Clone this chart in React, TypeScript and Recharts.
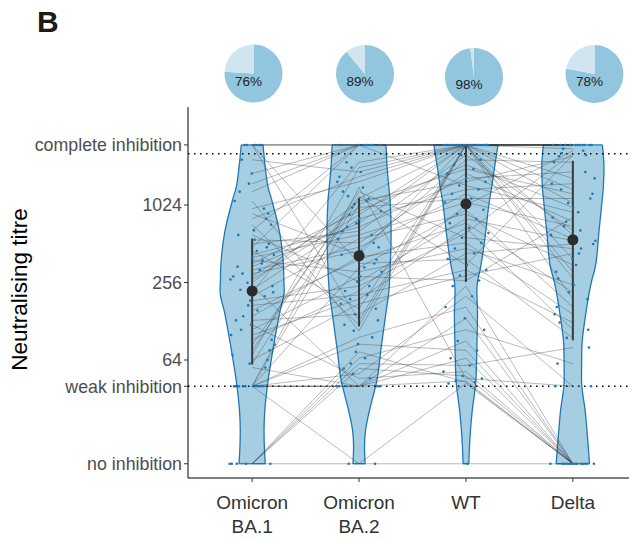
import React from 'react';
import {
  ComposedChart,
  Area,
  Line,
  Scatter,
  XAxis,
  YAxis,
  ReferenceLine,
  PieChart,
  Pie,
  Cell,
} from 'recharts';

// ---------- data ----------
const categoryLines: string[][] = [['Omicron', 'BA.1'], ['Omicron', 'BA.2'], ['WT'], ['Delta']];
const piePercent = [76, 89, 98, 78];

const yTicks = [10, 40, 64, 256, 1024, 3000];
const yTickLabels: Record<number, string> = {
  10: 'no inhibition',
  40: 'weak inhibition',
  64: '64',
  256: '256',
  1024: '1024',
  3000: 'complete inhibition',
};
const weakThreshold = 40;
const completeThreshold = 2560;

// per-subject titres (same subject order in every array)
const titreBA1 = [
  10, 40, 10, 40, 40, 10, 120, 10, 40, 40, 56, 10, 240, 40, 40, 40,
  110, 64, 170, 84, 3000, 130, 380, 140, 76, 185, 100, 155, 600, 200, 40, 92,
  400, 285, 320, 225, 480, 255, 420, 550, 40, 360, 300, 510, 60, 270, 450, 340,
  960, 3000, 720, 1800, 70, 3000, 1300, 800, 3000, 215, 650, 1100, 3000, 2300, 880, 1500,
];
const titreBA2 = [
  10, 10, 74, 40, 1400, 55, 46, 60, 40, 85, 40, 66, 40, 96, 50, 40,
  285, 175, 205, 1200, 360, 145, 310, 405, 1300, 240, 190, 385, 260, 560, 335, 220,
  600, 980, 480, 800, 3000, 1100, 690, 520, 1040, 920, 450, 640, 1150, 860, 160, 740,
  1550, 3000, 120, 3000, 2000, 130, 3000, 1700, 3000, 2200, 3000, 108, 3000, 1850, 420, 3000,
];
const titreWT = [
  10, 42, 43, 44, 46, 48, 52, 58, 66, 76, 90, 110, 135, 165, 200, 240,
  265, 290, 320, 350, 390, 430, 470, 520, 570, 620, 680, 740, 800, 870, 940, 1020,
  1070, 1150, 1250, 1350, 1450, 1550, 1650, 1800, 1950, 2100, 2300, 2500, 3000, 3000, 3000, 3000,
  3000, 3000, 3000, 3000, 3000, 3000, 3000, 3000, 3000, 3000, 3000, 3000, 3000, 3000, 3000, 3000,
];
const titreDelta = [
  10, 10, 10, 10, 40, 10, 10, 80, 10, 10, 10, 60, 10, 10, 40, 10,
  820, 430, 125, 2500, 95, 510, 245, 145, 470, 2600, 110, 215, 540, 350, 165, 2700,
  700, 1150, 560, 1500, 900, 2450, 1850, 760, 1250, 980, 2200, 650, 1350, 190, 1060, 1650,
  3000, 310, 3000, 2800, 3000, 3000, 600, 3000, 275, 3000, 3000, 3000, 390, 3000, 3000, 3000,
];

// violin density profiles (relative), read at these titre levels
const violinLevels = [3000, 2000, 1400, 1100, 620, 330, 260, 220, 150, 80, 45, 25, 18, 13.6, 10];
const densityBA1 = [0.34, 0.41, 0.5, 0.62, 0.86, 0.98, 0.99, 1.0, 0.86, 0.66, 0.5, 0.39, 0.37, 0.38, 0.41];
const densityBA2 = [0.84, 0.875, 0.93, 0.97, 1.0, 0.97, 0.95, 0.93, 0.84, 0.69, 0.56, 0.31, 0.2, 0.17, 0.19];
const densityWT = [1.0, 0.89, 0.8, 0.73, 0.61, 0.45, 0.36, 0.34, 0.36, 0.34, 0.31, 0.19, 0.14, 0.11, 0.09];
const densityDelta = [0.92, 0.97, 0.95, 0.91, 0.81, 0.69, 0.58, 0.52, 0.41, 0.28, 0.27, 0.39, 0.44, 0.48, 0.52];

// ---------- derived tables ----------
const W = 629;
const H = 532;
const VIOLIN_HALF = 0.3;
const JITTER = 0.42;
const FONT = '"Liberation Sans", Arial, Helvetica, sans-serif';

const seriesTitres = [titreBA1, titreBA2, titreWT, titreDelta];
const densities = [densityBA1, densityBA2, densityWT, densityDelta];

const violinTable = violinLevels.map((lvl, k) => {
  const row: any = { lvl };
  densities.forEach((d, c) => {
    row['v' + c] = [c + 1 - d[k] * VIOLIN_HALF, c + 1 + d[k] * VIOLIN_HALF];
  });
  return row;
});

const violinEdges = densities.flatMap((_, c) => {
  const top = violinTable[0]['v' + c];
  const bot = violinTable[violinTable.length - 1]['v' + c];
  return [
    [{ pos: top[0], lvl: violinLevels[0] }, { pos: top[1], lvl: violinLevels[0] }],
    [
      { pos: bot[0], lvl: violinLevels[violinLevels.length - 1] },
      { pos: bot[1], lvl: violinLevels[violinLevels.length - 1] },
    ],
  ];
});

const subjectLines = titreBA1.map((_, i) => seriesTitres.map((s, c) => ({ pos: c + 1, lvl: s[i] })));

const points = seriesTitres.flatMap((s, c) =>
  s.map((v, i) => ({ pos: c + 1 + (((i * 37 + c * 17) % 64) / 63 - 0.5) * JITTER, lvl: v }))
);

function quantileLog(arr: number[], p: number) {
  const a = arr.map((v) => Math.log2(v)).sort((x, y) => x - y);
  const h = (a.length - 1) * p;
  const lo = Math.floor(h);
  const hi = Math.min(lo + 1, a.length - 1);
  return Math.pow(2, a[lo] + (h - lo) * (a[hi] - a[lo]));
}

const summaries = seriesTitres.map((s, c) => ({
  pos: c + 1,
  q1: quantileLog(s, 0.25),
  med: quantileLog(s, 0.5),
  q3: quantileLog(s, 0.75),
}));

// ---------- components ----------
const XTick = (props: any) => {
  const { x, y, payload } = props;
  const lines = categoryLines[Math.round(payload.value) - 1] || [];
  return (
    <text x={x} y={y} textAnchor="middle" fill="#333333" fontSize={19} fontFamily={FONT}>
      {lines.map((t, k) => (
        <tspan key={k} x={x} dy={k === 0 ? 25 : 24}>
          {t}
        </tspan>
      ))}
    </text>
  );
};

const pieCenters = [
  [240.5, 60.5],
  [352, 61],
  [461, 64],
  [581.5, 61],
];

export default function App() {
  return (
    <div style={{ position: 'relative', width: W, height: H }}>
      <ComposedChart
        layout="vertical"
        width={W}
        height={H}
        data={violinTable}
        margin={{ top: 99, right: 0, bottom: 12, left: 0 }}
      >
        <XAxis
          type="number"
          dataKey="pos"
          domain={[0.4, 4.6]}
          ticks={[1, 2, 3, 4]}
          interval={0}
          allowDataOverflow
          height={50}
          tickSize={4}
          tick={<XTick />}
          axisLine={{ stroke: '#000000', strokeWidth: 1 }}
          tickLine={{ stroke: '#333333' }}
        />
        <YAxis
          type="number"
          dataKey="lvl"
          scale="log"
          domain={[7.75, 5913]}
          reversed
          allowDataOverflow
          ticks={yTicks}
          interval={0}
          width={180}
          tickSize={4}
          tickMargin={2}
          tickFormatter={(v: number) => yTickLabels[v] ?? String(v)}
          tick={{ fontSize: 17.8, fill: '#4d4d4d', fontFamily: FONT }}
          axisLine={{ stroke: '#000000', strokeWidth: 1 }}
          tickLine={{ stroke: '#333333' }}
        />
        {densities.map((_, c) => (
          <Area
            key={'violin' + c}
            dataKey={'v' + c}
            type="monotone"
            fill="#a6cee3"
            fillOpacity={1}
            stroke="#1f78b4"
            strokeWidth={1.3}
            dot={false}
            activeDot={false}
            isAnimationActive={false}
          />
        ))}
        {violinEdges.map((d, k) => (
          <Line
            key={'edge' + k}
            data={d}
            dataKey="pos"
            stroke="#1f78b4"
            strokeWidth={1.3}
            dot={false}
            activeDot={false}
            isAnimationActive={false}
          />
        ))}
        <ReferenceLine y={completeThreshold} stroke="#000000" strokeWidth={1.5} strokeDasharray="1.5 4.5" />
        <ReferenceLine y={weakThreshold} stroke="#000000" strokeWidth={1.5} strokeDasharray="1.5 4.5" />
        {subjectLines.map((d, i) => (
          <Line
            key={'subj' + i}
            data={d}
            dataKey="pos"
            stroke="#3c3c3c"
            strokeOpacity={0.55}
            strokeWidth={0.65}
            dot={false}
            activeDot={false}
            isAnimationActive={false}
          />
        ))}
        <Scatter
          data={points}
          isAnimationActive={false}
          shape={(p: any) => <circle cx={p.cx} cy={p.cy} r={1.3} fill="#1f78b4" />}
        />
        {summaries.map((s, c) => (
          <Line
            key={'iqr' + c}
            data={[
              { pos: s.pos, lvl: s.q1 },
              { pos: s.pos, lvl: s.q3 },
            ]}
            dataKey="pos"
            stroke="#3a3a3a"
            strokeWidth={2}
            dot={false}
            activeDot={false}
            isAnimationActive={false}
          />
        ))}
        <Scatter
          data={summaries.map((s) => ({ pos: s.pos, lvl: s.med }))}
          isAnimationActive={false}
          shape={(p: any) => <circle cx={p.cx} cy={p.cy} r={5.5} fill="#2b2b2b" />}
        />
        <text
          x={18.5}
          y={281.5}
          transform="rotate(-90 18.5 281.5)"
          textAnchor="middle"
          fontSize={22.5}
          fill="#000000"
          fontFamily={FONT}
        >
          Neutralising titre
        </text>
      </ComposedChart>
      <div style={{ position: 'absolute', left: 0, top: 0, pointerEvents: 'none' }}>
        <PieChart width={W} height={100}>
          {piePercent.map((p, c) => (
            <Pie
              key={'pie' + c}
              data={[
                { name: 'inhibited', value: p },
                { name: 'other', value: 100 - p },
              ]}
              dataKey="value"
              cx={pieCenters[c][0]}
              cy={pieCenters[c][1]}
              outerRadius={29}
              innerRadius={0}
              startAngle={90}
              endAngle={-270}
              stroke="none"
              isAnimationActive={false}
            >
              <Cell fill="#92c5de" />
              <Cell fill="#d1e5f0" />
            </Pie>
          ))}
        </PieChart>
      </div>
      <svg
        width={W}
        height={100}
        style={{ position: 'absolute', left: 0, top: 0, pointerEvents: 'none', overflow: 'visible' }}
      >
        {piePercent.map((p, c) => (
          <text
            key={'pl' + c}
            x={pieCenters[c][0]}
            y={pieCenters[c][1] + 17}
            textAnchor="middle"
            fontSize={13.5}
            fill="#222222"
            fontFamily={FONT}
          >
            {p}%
          </text>
        ))}
        <text x={29} y={24} fontSize={30} fontWeight="bold" fill="#1a1a1a" fontFamily={FONT}>
          B
        </text>
      </svg>
    </div>
  );
}
